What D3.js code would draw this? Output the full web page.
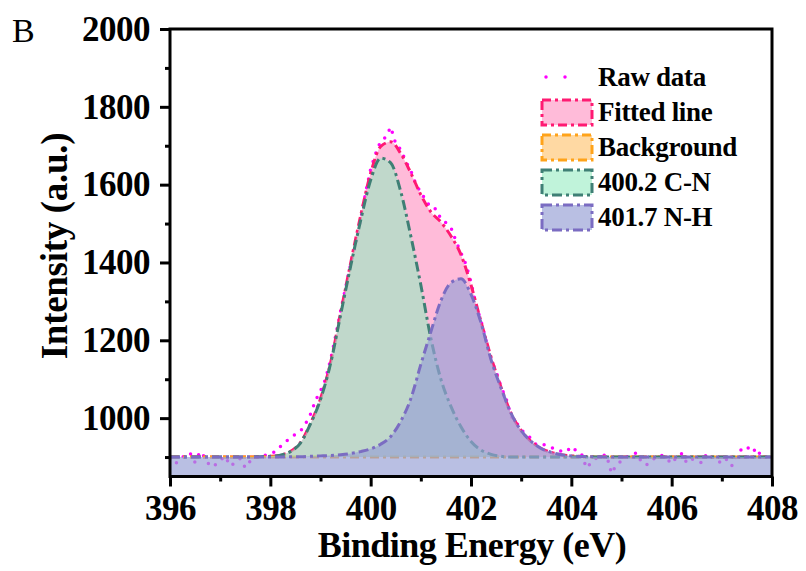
<!DOCTYPE html>
<html>
<head>
<meta charset="utf-8">
<script src="https://cdn.jsdelivr.net/npm/d3@7"></script>
<style>
body { margin: 0; background: #fff; }
svg { display: block; font-family: "Liberation Serif", "Times New Roman", serif; }
</style>
</head>
<body>
<svg width="806" height="571"></svg>
<script>
// raw spectrum, one point every 0.1 eV from 396 to 408
var rawEnergy = d3.range(121).map(function (i) { return +(396 + i * 0.1).toFixed(1); });
var rawCounts = [
  895, 882, 893, 905, 910, 886, 914, 898, 876, 880,
  892, 902, 877, 885, 896, 873, 890, 900, 898, 905,
  908, 914, 927, 938, 950, 958, 966, 985, 1010, 1045,
  1070, 1100, 1150, 1210, 1275, 1335, 1395, 1445, 1510, 1580,
  1640, 1680, 1712, 1722, 1748, 1705, 1690, 1660, 1636, 1602,
  1580, 1560, 1540, 1538, 1512, 1502, 1490, 1455, 1425, 1395,
  1350, 1290, 1250, 1200, 1150, 1120, 1080, 1050, 1005, 990,
  970, 958, 948, 932, 934, 930, 925, 917, 915, 913,
  927, 916, 909, 872, 886, 897, 903, 906, 858, 880,
  890, 900, 905, 911, 887, 880, 890, 902, 904, 896,
  883, 900, 909, 885, 895, 891, 885, 909, 900, 893,
  883, 895, 878, 905, 921, 927, 912, 923, 896, 902,
  909
];

// fitted curves
var fitEnergy = [396, 396.5, 397, 397.4, 397.6, 397.8, 398, 398.2, 398.4, 398.6,
  398.8, 399, 399.2, 399.4, 399.6, 399.8, 400, 400.2, 400.4, 400.6,
  400.8, 401, 401.2, 401.4, 401.6, 401.8, 402, 402.2, 402.4, 402.6,
  402.8, 403, 403.2, 403.4, 403.6, 403.8, 404, 404.4, 405, 406, 407, 408];
var fittedLine = [900, 900, 900, 900, 900, 901, 902, 905, 914, 937,
  986, 1050, 1142, 1270, 1398, 1520, 1630, 1698, 1710, 1680,
  1630, 1574, 1530, 1504, 1468, 1420, 1342, 1248, 1157, 1079,
  1012, 968, 940, 922, 912, 906, 903, 901, 900, 900, 900, 900];
var cnPeak = [900, 900, 900, 900, 900, 901, 902, 905, 914, 936,
  985, 1048, 1140, 1265, 1390, 1508, 1612, 1668, 1656, 1582,
  1468, 1342, 1205, 1100, 1030, 978, 940, 918, 907, 902,
  900, 900, 900, 900, 900, 900, 900, 900, 900, 900, 900, 900];
var nhPeak = [900, 900, 900, 900, 900, 900, 900, 900, 901, 901,
  902, 903, 904, 906, 909, 914, 921, 933, 953, 992,
  1050, 1138, 1222, 1302, 1348, 1358, 1318, 1245, 1150, 1077,
  1012, 968, 940, 922, 912, 906, 903, 901, 900, 900, 900, 900];
var bgEnergy = [396, 408];
var bgLevel = [900, 900];

var seriesNames = ["Raw data", "Fitted line", "Background", "400.2 C-N", "401.7 N-H"];
var xTicks = [396, 398, 400, 402, 404, 406, 408];
var xMinor = [397, 399, 401, 403, 405, 407];
var yTicks = [1000, 1200, 1400, 1600, 1800, 2000];
var yMinor = [900, 1100, 1300, 1500, 1700, 1900];

var svg = d3.select("svg");
var margins = { top: 29, right: 34, bottom: 94.5, left: 170 };
var svgWidth = +svg.attr("width");
var svgHeight = +svg.attr("height");
var chartWidth = svgWidth - margins.left - margins.right;
var chartHeight = svgHeight - margins.top - margins.bottom;

var xScale = d3.scaleLinear().domain([396, 408]).range([0, chartWidth]);
var yScale = d3.scaleLinear().domain([850, 2000]).range([chartHeight, 0]);

var g = svg.append("g").attr("transform", "translate(" + margins.left + "," + margins.top + ")");

var clip = svg.append("defs").append("clipPath").attr("id", "plotclip");
clip.append("rect").attr("width", chartWidth).attr("height", chartHeight);

var plot = g.append("g").attr("clip-path", "url(#plotclip)");

function pts(xs, ys) {
  return xs.map(function (x, i) { return [x, ys[i]]; });
}

// styles for each series
var styles = {
  fitted: { line: "#ff1a72", fill: "rgba(255,105,170,0.45)", dash: "9,4,3,4" },
  bg: { line: "#ffa31a", fill: "rgba(255,170,50,0.45)", dash: "9,4,3,4" },
  cn: { line: "#3f7f75", fill: "rgba(150,235,193,0.6)", dash: "10,4,3,4" },
  nh: { line: "#7b6cc2", fill: "rgba(152,160,214,0.68)", dash: "10,4,3,4" }
};

var line = d3.line()
  .x(function (d) { return xScale(d[0]); })
  .y(function (d) { return yScale(d[1]); })
  .curve(d3.curveMonotoneX);

function areaTo(base) {
  return d3.area()
    .x(function (d) { return xScale(d[0]); })
    .y0(base)
    .y1(function (d) { return yScale(d[1]); })
    .curve(d3.curveMonotoneX);
}

// raw data first, so the fills sit over it
plot.append("path")
  .datum(pts(rawEnergy, rawCounts))
  .attr("d", d3.line().x(function (d) { return xScale(d[0]); }).y(function (d) { return yScale(d[1]); }))
  .attr("fill", "none")
  .attr("stroke", "#ff00ff")
  .attr("stroke-width", 3.5)
  .attr("stroke-linecap", "round")
  .attr("stroke-dasharray", "0,9");

var baseY = yScale(bgLevel[0]);
var layers = [
  { key: "fitted", data: pts(fitEnergy, fittedLine), base: baseY },
  { key: "bg", data: pts(bgEnergy, bgLevel), base: baseY },
  { key: "cn", data: pts(fitEnergy, cnPeak), base: baseY },
  { key: "nh", data: pts(fitEnergy, nhPeak), base: chartHeight }
];

layers.forEach(function (l) {
  var st = styles[l.key];
  plot.append("path").datum(l.data)
    .attr("d", areaTo(l.base))
    .attr("fill", st.fill)
    .attr("stroke", "none");
  plot.append("path").datum(l.data)
    .attr("d", line)
    .attr("fill", "none")
    .attr("stroke", st.line)
    .attr("stroke-width", 3)
    .attr("stroke-dasharray", st.dash);
});

// axes
var tickFont = "bold 35px 'Liberation Serif', 'Times New Roman', serif";

var xAxis = g.append("g").attr("transform", "translate(0," + chartHeight + ")")
  .call(d3.axisBottom(xScale).tickValues(xTicks).tickSize(10).tickSizeOuter(0).tickPadding(9).tickFormat(d3.format("d")));
var xAxisMinor = g.append("g").attr("transform", "translate(0," + chartHeight + ")")
  .call(d3.axisBottom(xScale).tickValues(xMinor).tickSize(5).tickSizeOuter(0).tickFormat(""));
var yAxis = g.append("g")
  .call(d3.axisLeft(yScale).tickValues(yTicks).tickSize(10).tickSizeOuter(0).tickPadding(10).tickFormat(d3.format("d")));
var yAxisMinor = g.append("g")
  .call(d3.axisLeft(yScale).tickValues(yMinor).tickSize(5).tickSizeOuter(0).tickFormat(""));

[xAxis, xAxisMinor, yAxis, yAxisMinor].forEach(function (a) {
  a.select(".domain").remove();
  a.selectAll(".tick line").attr("stroke", "#000").attr("stroke-width", 3);
  a.selectAll(".tick text").style("font", tickFont).attr("fill", "#000").style("letter-spacing", "-0.5px");
});

// frame
g.append("rect")
  .attr("width", chartWidth).attr("height", chartHeight)
  .attr("fill", "none").attr("stroke", "#000").attr("stroke-width", 3);

// titles
svg.append("text")
  .attr("x", 472).attr("y", 557)
  .attr("text-anchor", "middle")
  .style("font", "bold 36px 'Liberation Serif', serif")
  .style("letter-spacing", "-0.5px")
  .text("Binding Energy (eV)");

svg.append("text")
  .attr("transform", "translate(67,246) rotate(-90)")
  .attr("text-anchor", "middle")
  .style("font", "bold 37px 'Liberation Serif', serif")
  .style("letter-spacing", "-0.3px")
  .text("Intensity (a.u.)");

svg.append("text")
  .attr("x", 12).attr("y", 42)
  .style("font", "34px 'Liberation Serif', serif")
  .text("B");

// legend
var legend = svg.append("g").attr("transform", "translate(542,77)");
var legendKeys = [null, "fitted", "bg", "cn", "nh"];
seriesNames.forEach(function (name, i) {
  var row = legend.append("g").attr("transform", "translate(0," + (i * 35) + ")");
  var key = legendKeys[i];
  if (key === null) {
    row.append("line")
      .attr("x1", 4).attr("x2", 42).attr("y1", 0).attr("y2", 0)
      .attr("stroke", "#ff00ff").attr("stroke-width", 3.5)
      .attr("stroke-linecap", "round").attr("stroke-dasharray", "0,19");
  } else {
    var st = styles[key];
    row.append("rect")
      .attr("x", 0).attr("y", -12).attr("width", 50).attr("height", 25)
      .attr("fill", st.fill).attr("stroke", st.line)
      .attr("stroke-width", 3).attr("stroke-dasharray", st.dash);
  }
  row.append("text")
    .attr("x", 56).attr("y", 0).attr("dy", "0.33em")
    .style("font", "bold 27px 'Liberation Serif', serif")
    .style("letter-spacing", "-0.3px")
    .text(name);
});
</script>
</body>
</html>
